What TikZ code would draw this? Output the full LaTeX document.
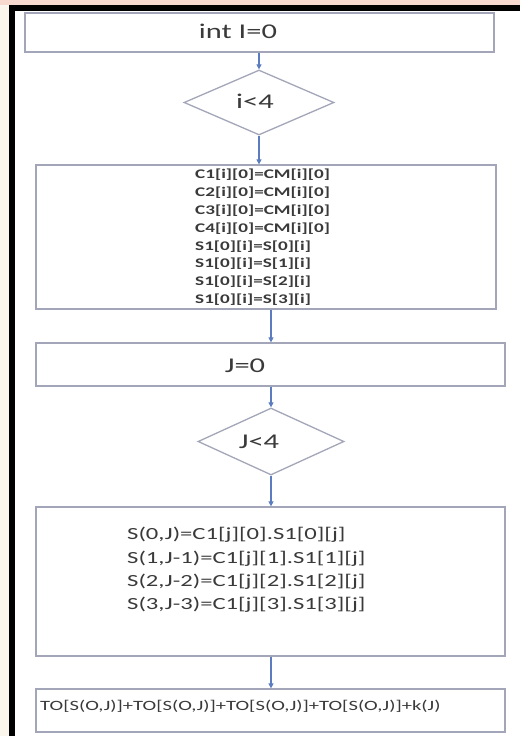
\documentclass[tikz,border=0pt]{standalone}
\usepackage{fontspec}
\setmainfont{Carlito}
\newfontfamily\widefont[FakeStretch=1.45]{Carlito}
\usetikzlibrary{shapes.geometric,arrows.meta}
\definecolor{boxc}{HTML}{A3A6B8}
\definecolor{arrc}{HTML}{5B7CC0}
\definecolor{txt}{HTML}{3A3A3A}
\definecolor{pinkc}{HTML}{F7D9CF}
\definecolor{palec}{HTML}{FAF6EE}
\begin{document}
\begin{tikzpicture}[x=1pt,y=-1pt,
  box/.style={draw=boxc, line width=1.3pt, minimum width=469pt, minimum height=43pt, inner sep=0pt},
  dia/.style={draw=boxc, line width=1.3pt, diamond, inner sep=0pt, aspect=2.3},
  arr/.style={draw=arrc, line width=1.2pt, -{Triangle[length=5pt,width=5pt]}},
  lbl/.style={text=txt, inner sep=0pt},
  big/.style={lbl, font=\widefont\fontsize{21pt}{25pt}\selectfont},
  small/.style={lbl, anchor=west, font=\widefont\bfseries\fontsize{13.2pt}{16pt}\selectfont},
  mid/.style={lbl, anchor=west, font=\widefont\fontsize{17pt}{20pt}\selectfont},
  low/.style={lbl, anchor=west, font=\widefont\fontsize{14.2pt}{17pt}\selectfont}]
\useasboundingbox (0,0) rectangle (520,736);
\fill[white] (0,0) rectangle (520,736);
\fill[pinkc] (0,0) rectangle (520,5);
\fill[palec] (0,5) rectangle (9,736);
\fill[black] (9,5) rectangle (520,11);
\fill[black] (9,5) rectangle (15,736);

\node[box, minimum height=39pt] (b1) at (259.5,32.5) {};
\node[dia, minimum width=150pt, minimum height=65pt] (d1) at (259,102.5) {};
\node[box, minimum width=460pt, minimum height=144pt] (b2) at (266,237) {};
\node[box] (b3) at (270.5,364.5) {};
\node[dia, minimum width=146pt, minimum height=67pt] (d2) at (271,441.5) {};
\node[box, minimum height=149pt] (b4) at (270.5,581.5) {};
\node[box] (b5) at (270.5,710.5) {};

\node[big] (t1) at (238,31) {int I=0};
\node[big] (t2) at (255,101) {i<4};
\node[big] (t3) at (245,366) {J=0};
\node[big] (t4) at (259,442) {J<4};

\foreach [count=\k] \s in {C1[i][0]=CM[i][0], C2[i][0]=CM[i][0], C3[i][0]=CM[i][0], C4[i][0]=CM[i][0], S1[0][i]=S[0][i], S1[0][i]=S[1][i], S1[0][i]=S[2][i], S1[0][i]=S[3][i]}
  \node[small] (p\k) at (195,{175+(\k-1)*17.8}) {\s};

\foreach [count=\k] \s in {{S(0,J)=C1[j][0].S1[0][j]}, {S(1,J-1)=C1[j][1].S1[1][j]}, {S(2,J-2)=C1[j][2].S1[2][j]}, {S(3,J-3)=C1[j][3].S1[3][j]}}
  \node[mid] (q\k) at (127,{535+(\k-1)*23.3}) {\s};

\node[low] (r1) at (40,706) {TO[S(O,J)]+TO[S(O,J)]+TO[S(O,J)]+TO[S(O,J)]+k(J)};

\draw[arr] (d1.north |- b1.south) -- (d1.north);
\draw[arr] (d1.south) -- (d1.south |- b2.north);
\draw[arr] (d2.north |- b2.south) -- (d2.north |- b3.north);
\draw[arr] (d2.north |- b3.south) -- (d2.north);
\draw[arr] (d2.south) -- (d2.south |- b4.north);
\draw[arr] (d2.south |- b4.south) -- (d2.south |- b5.north);
\end{tikzpicture}
\end{document}
